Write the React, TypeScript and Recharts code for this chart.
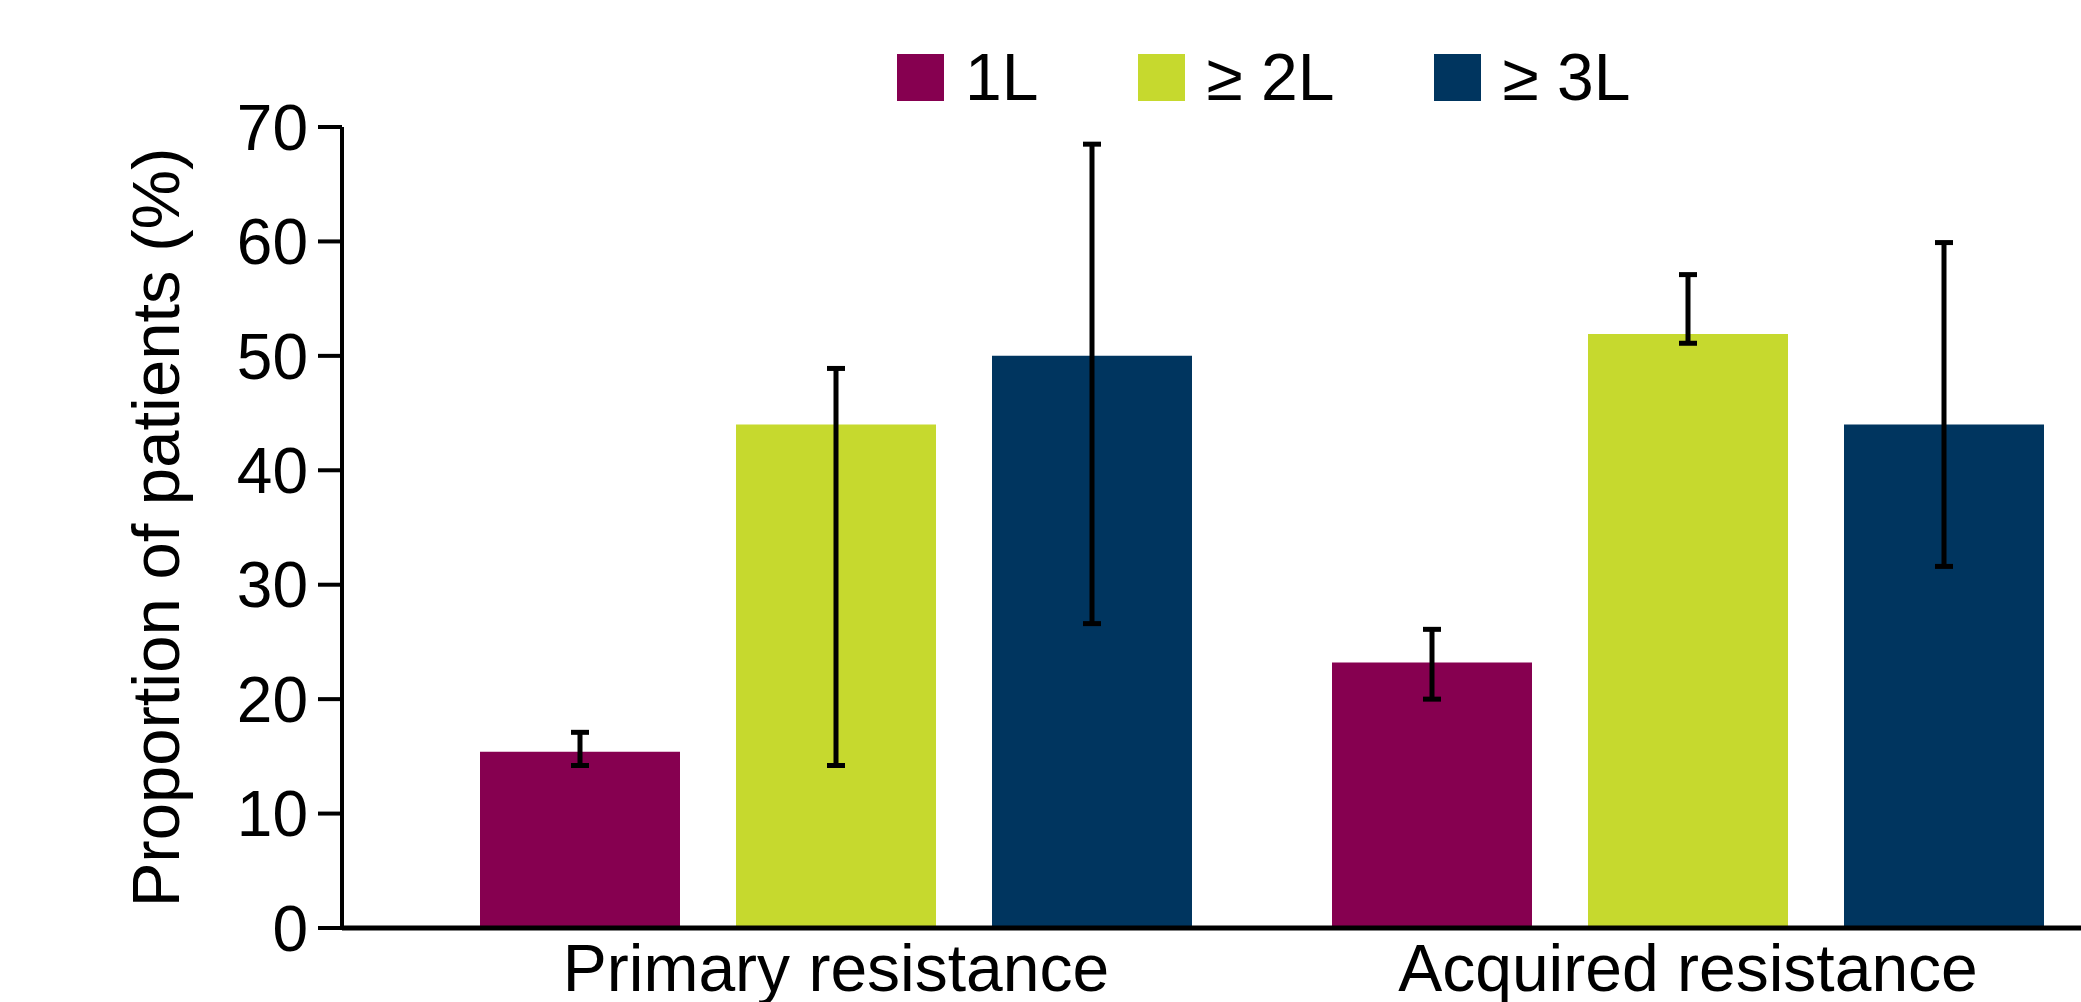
import { BarChart, Bar, XAxis, YAxis, ErrorBar } from "recharts"

// categories and series
const categories = ["Primary resistance", "Acquired resistance"]
const seriesNames = ["1L", "≥ 2L", "≥ 3L"]
const seriesColors = ["#860050", "#C6D92E", "#00355F"]

// proportion of patients (%) per line of therapy
const line1 = [15.4, 23.2]
const line2 = [44.0, 51.9]
const line3 = [50.0, 44.0]

// lower / upper bounds of the error bars
const line1Low = [14.2, 20.0]
const line1High = [17.1, 26.1]
const line2Low = [14.2, 51.1]
const line2High = [48.9, 57.1]
const line3Low = [26.6, 31.6]
const line3High = [68.5, 59.9]

const yTicks = [0, 10, 20, 30, 40, 50, 60, 70]

const FONT = '"Liberation Sans", Arial, Helvetica, sans-serif'

const data = categories.map((name, i) => ({
  name,
  s1: line1[i],
  s2: line2[i],
  s3: line3[i],
  e1: [line1[i] - line1Low[i], line1High[i] - line1[i]],
  e2: [line2[i] - line2Low[i], line2High[i] - line2[i]],
  e3: [line3[i] - line3Low[i], line3High[i] - line3[i]]
}))

function LegendBox() {
  return (
    <div style={{ position: "absolute", top: 44, left: 897, display: "flex", alignItems: "center", fontFamily: FONT }}>
      {seriesNames.map((n, i) => (
        <div key={n} style={{ display: "flex", alignItems: "center", marginRight: 100 }}>
          <div style={{ width: 47, height: 47, background: seriesColors[i] }} />
          <span style={{ fontSize: 66, lineHeight: 1, marginLeft: 21, color: "#000" }}>{n}</span>
        </div>
      ))}
    </div>
  )
}

export default function App() {
  return (
    <div style={{ position: "absolute", left: 0, top: 0, width: 2081, height: 1002, overflow: "hidden", background: "#fff" }}>
      <BarChart
        width={2114}
        height={1002}
        data={data}
        margin={{ top: 127, right: 0, bottom: 0, left: 0 }}
        barCategoryGap={70}
        barGap={56}
      >
        <XAxis
          dataKey="name"
          height={74}
          padding={{ left: 68, right: 0 }}
          axisLine={{ stroke: "#000", strokeWidth: 5 }}
          tickLine={false}
          tickSize={0}
          tickMargin={16}
          tick={{ fill: "#000", fontSize: 66, fontFamily: FONT }}
        />
        <YAxis
          width={342}
          domain={[0, 70]}
          ticks={yTicks}
          interval={0}
          axisLine={{ stroke: "#000", strokeWidth: 4 }}
          tickLine={{ stroke: "#000", strokeWidth: 4 }}
          tickSize={24}
          tickMargin={10}
          tick={{ fill: "#000", fontSize: 64, fontFamily: FONT }}
          label={{
            value: "Proportion of patients (%)",
            angle: -90,
            position: "insideLeft",
            offset: 155,
            style: { textAnchor: "middle", fill: "#000", fontSize: 67, fontFamily: FONT }
          }}
        />
        <Bar dataKey="s1" name={seriesNames[0]} fill={seriesColors[0]} barSize={200} isAnimationActive={false}>
          <ErrorBar dataKey="e1" width={9} stroke="#000" strokeWidth={5} direction="y" />
        </Bar>
        <Bar dataKey="s2" name={seriesNames[1]} fill={seriesColors[1]} barSize={200} isAnimationActive={false}>
          <ErrorBar dataKey="e2" width={9} stroke="#000" strokeWidth={5} direction="y" />
        </Bar>
        <Bar dataKey="s3" name={seriesNames[2]} fill={seriesColors[2]} barSize={200} isAnimationActive={false}>
          <ErrorBar dataKey="e3" width={9} stroke="#000" strokeWidth={5} direction="y" />
        </Bar>
      </BarChart>
      <LegendBox />
    </div>
  )
}
